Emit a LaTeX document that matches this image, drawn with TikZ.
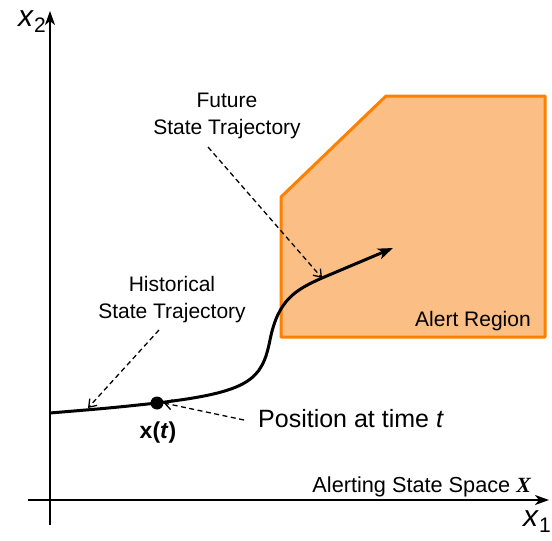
\documentclass[tikz,border=0pt]{standalone}
\usepackage{fontspec}
\setmainfont{Liberation Sans}
\newfontfamily\timesfont{Liberation Serif}
\usetikzlibrary{arrows.meta}
\definecolor{alertfill}{RGB}{251,190,133}
\definecolor{alertline}{RGB}{255,128,0}
\newcommand{\axislabel}[1]{{\fontsize{30}{30}\selectfont\textit{x}}\raisebox{-6pt}{\fontsize{21}{22}\selectfont #1}}
\tikzset{
  lbl/.style={font=\fontsize{21}{27}\selectfont, align=center, inner sep=0pt},
  pointer/.style={dashed, dash pattern=on 5pt off 3.5pt, line width=1.3pt, -{Straight Barb[length=7pt,width=10pt]}},
  axis/.style={line width=2pt, -{Stealth[length=14pt,width=10pt,inset=4pt]}},
}
\begin{document}
\begin{tikzpicture}[x=1pt, y=-1pt]
  \useasboundingbox (0,0) rectangle (552,541);
  % alert region
  \draw[alertline, fill=alertfill, line width=3pt, line join=round]
    (281,197) -- (386,96) -- (545,96) -- (545,337) -- (281,337) -- cycle;
  \node[lbl] (alert) at (473,321) {Alert Region};
  % axes
  \coordinate (h0) at (28,500);
  \coordinate (h1) at (549,500);
  \coordinate (v0) at (50,525);
  \coordinate (v1) at (50,11);
  \draw[axis] (h0) -- (h1);
  \draw[axis] (v0) -- (v1);
  \node (x2) at (32,22) {\axislabel{2}};
  \node[inner sep=0pt, anchor=east] (x1) at (551,522) {\axislabel{1}};
  \node[lbl, font=\fontsize{21.7}{27}\selectfont, anchor=south east] (space) at (531,497) {Alerting State Space {\timesfont\bfseries\itshape X}};
  % trajectory
  \coordinate (start) at (50,413);
  \coordinate (past) at (88,408);
  \coordinate (bend) at (270,340);
  \coordinate (future) at (322,278);
  \coordinate (stop) at (393,248);
  \node[circle, fill, inner sep=0pt, minimum size=13pt] (xt) at (157,403) {};
  \draw[line width=3pt, -{Stealth[length=15pt,width=11pt,inset=4pt]}]
    (start) .. controls (110,408) .. (xt.center)
    .. controls (250,392) and (262,380) .. (bend)
    .. controls (278,300) and (295,290) .. (future) -- (stop);
  \node[lbl, font=\fontsize{23}{25}\bfseries] (xtlbl) at (158,433) {x(\textit{t})};
  % labels with pointers
  \node[lbl] (hist) at (172,300) {Historical\\State Trajectory};
  \node[lbl] (fut) at (227,116) {Future\\State Trajectory};
  \node[lbl, font=\fontsize{25}{27}\selectfont, anchor=west] (pos) at (258,419) {Position at time \textit{t}};
  \draw[pointer] (159,330) -- (past);
  \draw[pointer] (208,147) -- (future);
  \draw[pointer] (pos.west) ++(-14,1) -- (xt.east);
\end{tikzpicture}
\end{document}
